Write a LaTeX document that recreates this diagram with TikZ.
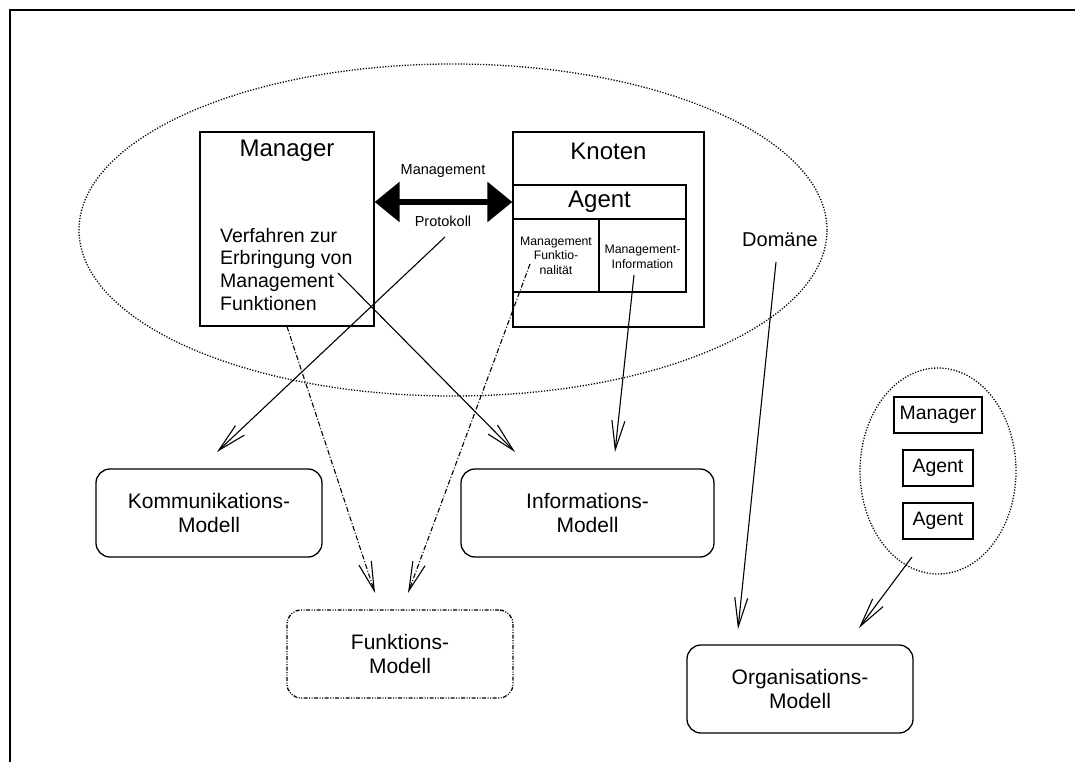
\documentclass[tikz,border=0pt]{standalone}
\usepackage{fontspec}
\setmainfont{Liberation Sans}
\usetikzlibrary{arrows.meta,shapes.geometric}

\begin{document}
\begin{tikzpicture}[x=1pt,y=-1pt,
  box/.style={draw, line width=1.3pt, inner sep=0pt, minimum width=#1},
  model/.style={draw, line width=1.3pt, rounded corners=14pt, inner sep=0pt,
    minimum width=226pt, minimum height=88pt, align=center,
    font=\fontsize{21}{24.5}\selectfont},
  conn/.style={line width=1.1pt, -{Straight Barb[length=29pt,width=13pt]}},
  dashdot/.style={dash pattern=on 5pt off 2pt on 1pt off 2pt},
  dotline/.style={line width=1.3pt, dash pattern=on 1.2pt off 1.6pt},
  big/.style={font=\fontsize{24}{28}\selectfont},
  mid/.style={font=\fontsize{19.5}{22.6}\selectfont},
  lbl/.style={font=\fontsize{14.5}{17}\selectfont},
  tiny/.style={font=\fontsize{12.3}{14.5}\selectfont, align=center},
  small/.style={font=\fontsize{19.4}{22}\selectfont}
]
\useasboundingbox (0,0) rectangle (1075,762);

% outer frame (top and left edges)
\draw[line width=1.5pt] (10,762) -- (10,10) -- (1075,10);

% domain ellipse
\node[ellipse, dotline, draw, minimum width=748pt, minimum height=332pt, inner sep=0pt]
  (domain) at (453,230) {};

% manager
\node[box=174pt, minimum height=194pt] (mgr) at (287,229) {};
\node[big] (mgrtitle) at (287,151) {Manager};
\node[mid, anchor=north west, align=left, inner sep=0pt] (mgrtext) at (220,228)
  {Verfahren zur\\Erbringung von\\Management\\Funktionen};

% node with agent
\node[box=191pt, minimum height=195pt] (knoten) at (608.5,229.5) {};
\node[big] (knotentitle) at (608.5,151) {Knoten};
\node[box=173pt, minimum height=34pt] (agtitle) at (599.5,202) {};
\node[big] at (agtitle) {Agent};
\node[box=86pt, minimum height=73pt] (cellF) at (556,255.5) {};
\node[box=87pt, minimum height=73pt] (cellI) at (642.5,255.5) {};
\node[tiny] at (cellF) {Management\\Funktio-\\nalität};
\node[tiny] at (642.5,257) {Management-\\Information};

% management protocol
\draw[line width=6pt, {Triangle[length=25pt,width=39pt]}-{Triangle[length=25pt,width=39pt]}]
  (mgr.east |- agtitle) -- (agtitle.west);
\node[lbl] (protA) at (443,171) {Management};
\node[lbl] (protB) at (443,221) {Protokoll};

\node[small, font=\fontsize{20}{24}\selectfont] (dom) at (780,240) {Domäne};

% organisation ellipse
\node[ellipse, dotline, draw, minimum width=156pt, minimum height=206pt, inner sep=0pt]
  (orgell) at (938,471) {};
\node[box=88pt, minimum height=36pt, small] (omgr) at (938,415) {Manager};
\node[box=70pt, minimum height=36pt, small] (oag1) at (938,468) {Agent};
\node[box=70pt, minimum height=36pt, small] (oag2) at (938,521) {Agent};

% models
\node[model] (komm) at (209,513) {Kommunikations-\\Modell};
\node[model, minimum width=253pt] (info) at (587.5,513) {Informations-\\Modell};
\node[model, dash pattern=on 4pt off 1.5pt on 1pt off 1.5pt on 1pt off 1.5pt] (funk) at (400,654) {Funktions-\\Modell};
\node[model] (orga) at (800,689) {Organisations-\\Modell};

% connector ends
\coordinate (c1s) at (445,237);  \coordinate (c1e) at (217,452);
\coordinate (c2s) at (338,273);  \coordinate (c2e) at (515,452);
\coordinate (c3e) at (375,593);
\coordinate (c4s) at (530,264);  \coordinate (c4e) at (408,593);
\coordinate (c5s) at (634,275);  \coordinate (c5e) at (615,452);
\coordinate (c6s) at (776,262);  \coordinate (c6e) at (738,629);
\coordinate (c7s) at (912,557);  \coordinate (c7e) at (859,628);

\draw[conn] (c1s) -- (c1e);
\draw[conn] (c2s) -- (c2e);
\draw[conn, dashdot] (mgr.south) -- (c3e);
\draw[conn, dashdot] (c4s) -- (c4e);
\draw[conn] (c5s) -- (c5e);
\draw[conn] (c6s) -- (c6e);
\draw[conn] (c7s) -- (c7e);
\end{tikzpicture}
\end{document}
